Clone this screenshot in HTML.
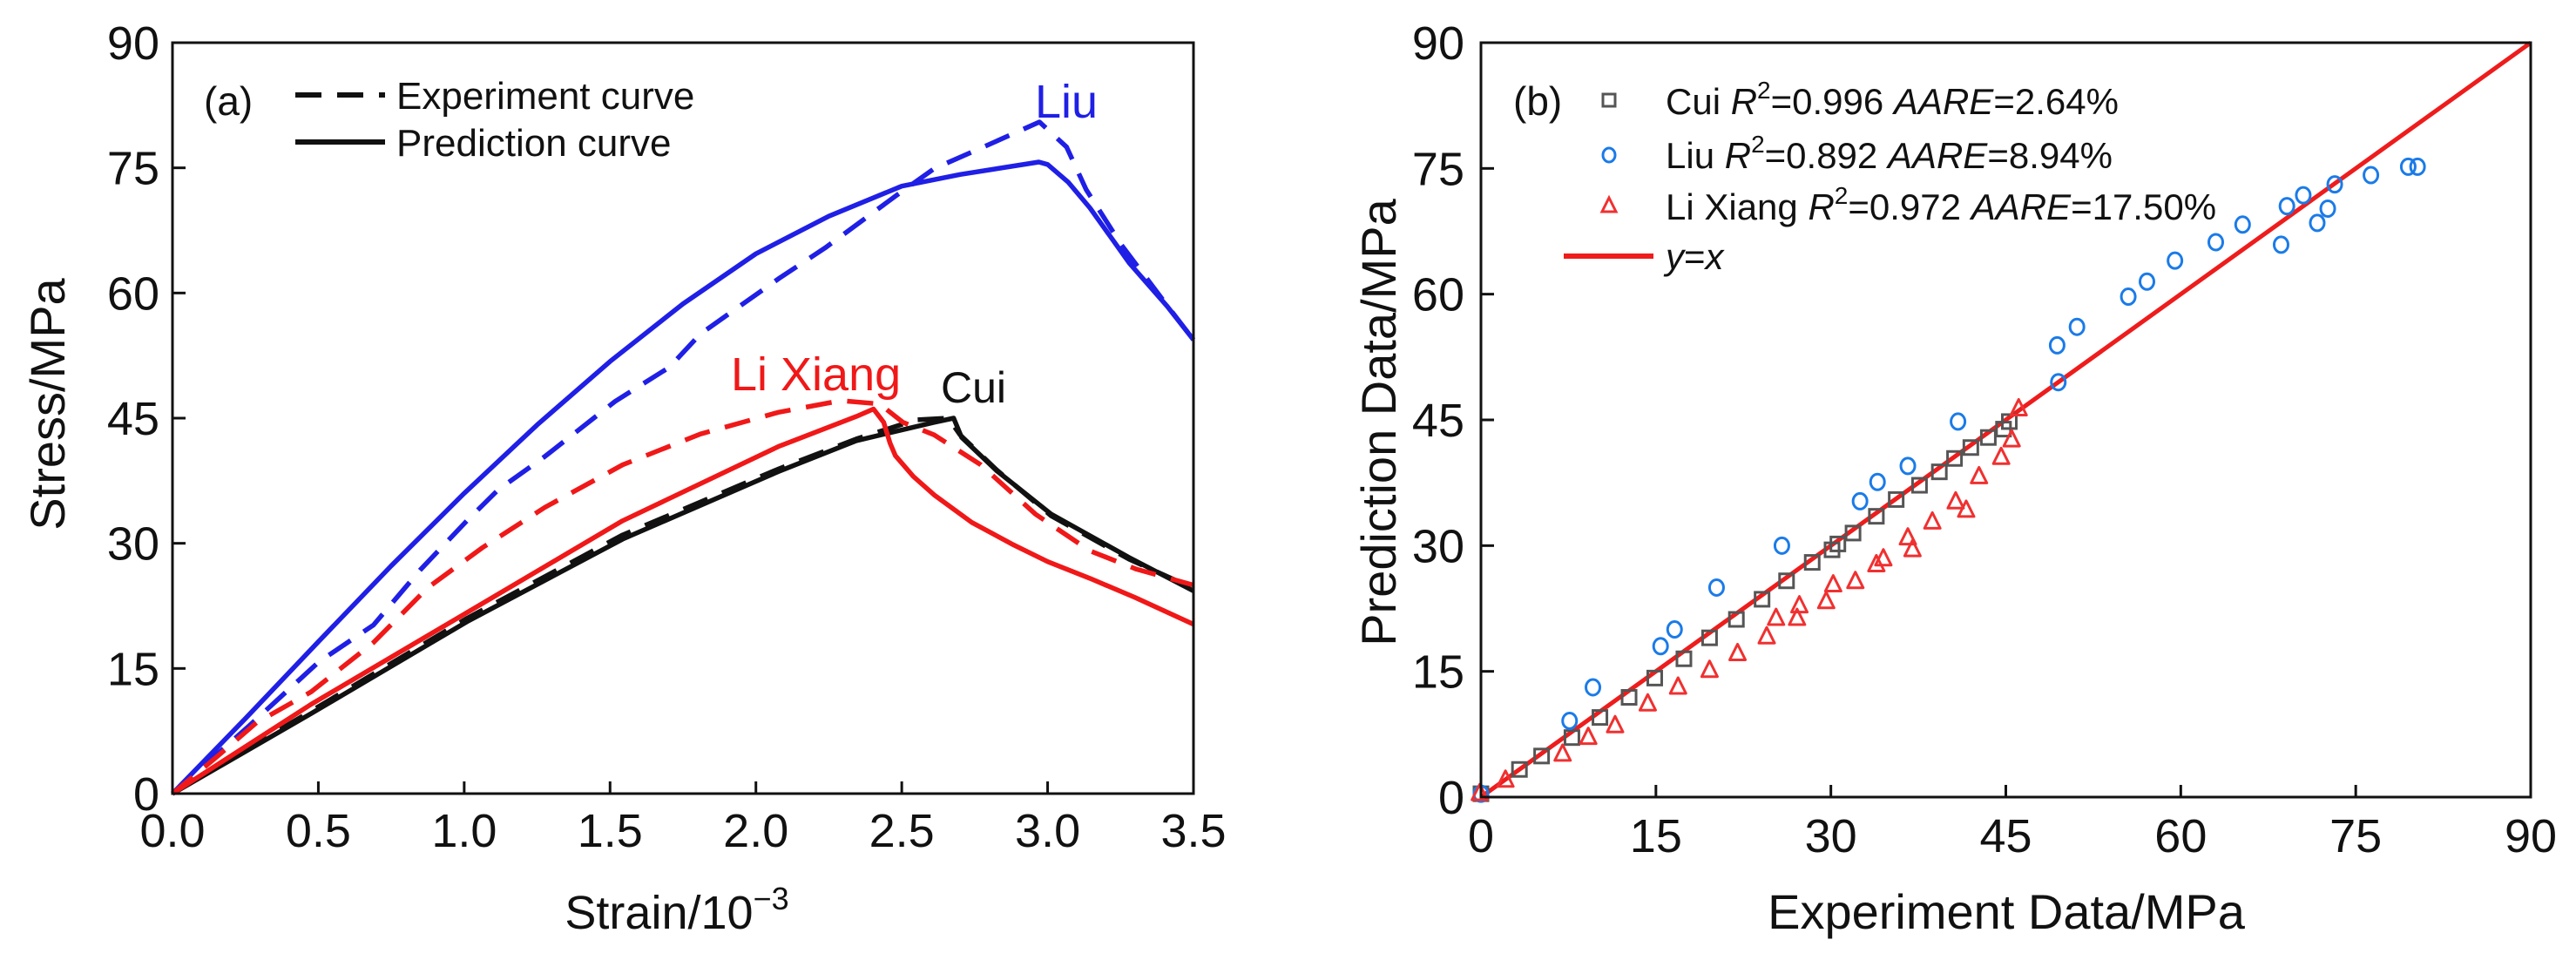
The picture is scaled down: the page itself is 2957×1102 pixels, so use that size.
<!DOCTYPE html>
<html><head><meta charset="utf-8"><style>
html,body{margin:0;padding:0;background:#fff;}
svg{display:block;font-family:"Liberation Sans",Arial,sans-serif;}
</style></head><body>
<svg id="fig" width="2957" height="1102" viewBox="0 0 2957 1102" xmlns="http://www.w3.org/2000/svg">
<rect width="2957" height="1102" fill="#fff"/>
<g id="pa"></g>
<g id="pb"></g>
</svg>
<script>
// ---- Panel (a) data ----
const strainTicks=[0,0.5,1.0,1.5,2.0,2.5,3.0,3.5];
const stressTicks=[0,15,30,45,60,75,90];
const liuExpX=[0,0.262,0.502,0.689,0.849,1.009,1.116,1.276,1.517,1.703,1.810,2.077,2.237,2.478,2.611,2.825,2.972,3.065,3.132,3.252,3.412,3.5];
const liuExpY=[0,8.1,15.8,20.2,26.8,32.7,36.4,40.4,47.0,51.1,55.1,61.7,65.4,71.6,74.9,78.2,80.5,77.5,72.4,65.8,58.4,54.4];
const liuPredX=[0,0.25,0.5,0.75,1.0,1.25,1.5,1.75,2.0,2.25,2.5,2.7,2.97,3.0,3.07,3.145,3.28,3.41,3.5];
const liuPredY=[0,9.0,18.2,27.3,36.0,44.2,51.8,58.7,64.7,69.2,72.8,74.2,75.7,75.4,73.3,70.2,63.6,58.4,54.4];
const liExpX=[0,0.155,0.288,0.475,0.689,0.876,1.063,1.276,1.543,1.810,2.077,2.291,2.424,2.504,2.611,2.771,2.958,3.145,3.305,3.5];
const liExpY=[0,4.5,8.5,12.2,18.1,24.7,29.5,34.3,39.4,43.1,45.7,47.1,46.7,44.5,43.0,39.4,33.5,29.1,26.9,25.0];
const liPredX=[0,0.475,1.009,1.543,2.077,2.344,2.403,2.438,2.46,2.478,2.54,2.611,2.74,2.878,3.0,3.145,3.3,3.5];
const liPredY=[0,10.7,21.7,32.7,41.6,45.2,46.1,44.5,42.0,40.5,38.0,35.8,32.5,29.9,27.8,25.8,23.5,20.3];
const cuiExpX=[0,0.475,1.009,1.543,2.077,2.344,2.55,2.66,2.7,2.825,3.012,3.279,3.5];
const cuiExpY=[0,9.9,21.0,31.0,38.9,42.5,44.8,45.0,43.0,38.8,33.3,28.1,24.6];
const cuiPredX=[0,0.475,1.009,1.543,2.077,2.344,2.611,2.678,2.705,2.825,3.012,3.279,3.5];
const cuiPredY=[0,9.6,20.6,30.5,38.6,42.3,44.5,45.0,42.7,38.7,33.5,28.3,24.3];
// ---- Panel (b) data ----
const dataTicks=[0,15,30,45,60,75,90];
const cuiX=[0,3.3,5.2,7.8,10.2,12.7,14.9,17.4,19.6,21.9,24.1,26.2,28.4,30.1,30.6,31.9,33.9,35.6,37.6,39.3,40.6,42.0,43.5,44.8,45.3];
const cuiY=[0.4,3.3,4.9,7.1,9.5,11.9,14.2,16.5,19.0,21.2,23.6,25.8,28.0,29.5,30.2,31.5,33.5,35.5,37.2,38.8,40.4,41.7,42.9,43.9,44.8];
const liuX=[0,7.6,9.6,15.4,16.6,20.2,25.8,32.5,34.0,36.6,40.9,49.4,49.5,51.1,55.5,57.1,59.5,63.0,65.3,68.6,69.1,70.5,71.7,72.6,73.2,76.3,79.5,80.3];
const liuY=[0.4,9.1,13.1,18.0,20.0,25.0,30.0,35.3,37.6,39.5,44.8,53.9,49.5,56.1,59.7,61.5,64.0,66.2,68.3,65.9,70.5,71.8,68.5,70.2,73.1,74.2,75.2,75.2];
const liX=[-0.1,2.1,7.0,9.2,11.5,14.3,16.9,19.6,22.0,24.5,25.3,27.1,27.3,29.6,30.2,32.1,33.9,34.5,36.6,37.0,38.7,40.7,41.6,42.7,44.6,45.5,46.1];
const liY=[0.4,2.0,5.1,7.1,8.5,11.1,13.1,15.1,17.1,19.1,21.3,21.3,22.8,23.3,25.3,25.7,27.7,28.4,30.9,29.5,32.8,35.2,34.2,38.2,40.5,42.6,46.3];

const NS="http://www.w3.org/2000/svg";
function mk(parent,tag,attrs,text){const e=document.createElementNS(NS,tag);for(const k in attrs)e.setAttribute(k,attrs[k]);if(text!==undefined)e.textContent=text;parent.appendChild(e);return e;}

// ---------- Panel A ----------
const A=document.getElementById('pa');
const aL=198,aR=1370,aT=49,aB=911;
const ax=s=>aL+s/3.5*(aR-aL);
const ay=v=>aB-v/90*(aB-aT);
function curve(xs,ys,color,dash,name){
  let d=xs.map((x,i)=>(i?'L':'M')+ax(x).toFixed(1)+','+ay(ys[i]).toFixed(1)).join(' ');
  const p=mk(A,'path',{d:d,fill:'none',stroke:color,'stroke-width':5.5,'stroke-linejoin':'round'});
  if(dash)p.setAttribute('stroke-dasharray','30,18');
  
  
}
curve(liuPredX,liuPredY,'#1f1fe6',false,'liu-prediction-curve');
curve(liuExpX,liuExpY,'#1f1fe6',true,'liu-experiment-curve');
curve(cuiPredX,cuiPredY,'#111',false,'cui-prediction-curve');
curve(cuiExpX,cuiExpY,'#111',true,'cui-experiment-curve');
curve(liPredX,liPredY,'#f01818',false,'lixiang-prediction-curve');
curve(liExpX,liExpY,'#f01818',true,'lixiang-experiment-curve');
let fa=mk(A,'rect',{x:aL,y:aT,width:aR-aL,height:aB-aT,fill:'none',stroke:'#111','stroke-width':3});

strainTicks.forEach(t=>{
  const l=mk(A,'line',{x1:ax(t),x2:ax(t),y1:aB,y2:aB-14,stroke:'#111','stroke-width':3});
  
  const tx=mk(A,'text',{x:ax(t),y:972,'font-size':54,'text-anchor':'middle',fill:'#111'},t.toFixed(1));
  
});
stressTicks.forEach(t=>{
  const l=mk(A,'line',{x1:aL,x2:aL+15,y1:ay(t),y2:ay(t),stroke:'#111','stroke-width':3});
  
  const tx=mk(A,'text',{x:183,y:ay(t)+19,'font-size':54,'text-anchor':'end',fill:'#111'},String(t));
  
});
</script>
<script>
(function(){
const A=document.getElementById('pa');const NS="http://www.w3.org/2000/svg";
function t(x,y,s,txt,name,extra){const e=document.createElementNS(NS,'text');e.setAttribute('x',x);e.setAttribute('y',y);e.setAttribute('font-size',s);e.setAttribute('fill',(extra&&extra.fill)||'#111');if(extra&&extra.anchor)e.setAttribute('text-anchor',extra.anchor);if(extra&&extra.tr)e.setAttribute('transform',extra.tr);e.innerHTML=txt;


A.appendChild(e);return e;}
t(777,1066,54,'Strain/10<tspan dy="-22" font-size="36">−3</tspan>','x-axis-title',{anchor:'middle'});
t(74,464,56,'Stress/MPa','y-axis-title',{anchor:'middle',tr:'rotate(-90 74 464)'});
t(234,132,46,'(a)','panel-label-a');
t(455,125,44,'Experiment curve','legend-experiment-label');
t(455,179,44,'Prediction curve','legend-prediction-label');
t(1188,135,54,'Liu','liu-label',{fill:'#1f1fe6'});
t(839,448,54,'Li Xiang','lixiang-label',{fill:'#f01818'});
t(1080,462,50,'Cui','cui-label');
const l1=document.createElementNS(NS,'line');l1.setAttribute('x1',339);l1.setAttribute('x2',442);l1.setAttribute('y1',109);l1.setAttribute('y2',109);l1.setAttribute('stroke','#111');l1.setAttribute('stroke-width',6);l1.setAttribute('stroke-dasharray','30,18');


A.appendChild(l1);
const l2=document.createElementNS(NS,'line');l2.setAttribute('x1',339);l2.setAttribute('x2',442);l2.setAttribute('y1',163);l2.setAttribute('y2',163);l2.setAttribute('stroke','#111');l2.setAttribute('stroke-width',6);


A.appendChild(l2);
})();
</script>
<script>
(function(){
const B=document.getElementById('pb');
const bL=1700,bR=2905,bT=49,bB=915;
const bx=v=>bL+v/90*(bR-bL);
const by=v=>bB-v/90*(bB-bT);
const yx=mk(B,'line',{x1:bx(0),y1:by(0),x2:bx(90),y2:by(90),stroke:'#ee1c1c','stroke-width':5});


cuiX.forEach((v,i)=>{
  const r=mk(B,'rect',{x:bx(v)-8,y:by(cuiY[i])-8,width:16,height:16,fill:'none',stroke:'#555','stroke-width':3});
  
  
});
liuX.forEach((v,i)=>{
  const c=mk(B,'ellipse',{cx:bx(v),cy:by(liuY[i]),rx:8,ry:9,fill:'none',stroke:'#1a7be8','stroke-width':3});
  
  
});
liX.forEach((v,i)=>{
  const X=bx(v),Y=by(liY[i]);
  const p=mk(B,'path',{d:`M${X},${Y-11} L${X+9},${Y+7} L${X-9},${Y+7} Z`,fill:'none',stroke:'#f03030','stroke-width':3,'stroke-linejoin':'round'});
  
  
});
const fb=mk(B,'rect',{x:bL,y:bT,width:bR-bL,height:bB-bT,fill:'none',stroke:'#111','stroke-width':3});


dataTicks.forEach(t=>{
  const l=mk(B,'line',{x1:bx(t),x2:bx(t),y1:bB,y2:bB-14,stroke:'#111','stroke-width':3});
  
  
  const tx=mk(B,'text',{x:bx(t),y:978,'font-size':54,'text-anchor':'middle',fill:'#111'},String(t));
  
  
  const l2=mk(B,'line',{x1:bL,x2:bL+15,y1:by(t),y2:by(t),stroke:'#111','stroke-width':3});
  
  
  const ty=mk(B,'text',{x:1681,y:by(t)+19,'font-size':54,'text-anchor':'end',fill:'#111'},String(t));
  
  
});
function t(x,y,s,html,name,extra){const e=mk(B,'text',{x:x,y:y,'font-size':s,fill:'#111'});if(extra&&extra.anchor)e.setAttribute('text-anchor',extra.anchor);if(extra&&extra.tr)e.setAttribute('transform',extra.tr);e.innerHTML=html;


return e;}
t(2303,1066,56,'Experiment Data/MPa','x-axis-title',{anchor:'middle'});
t(1602,485,56,'Prediction Data/MPa','y-axis-title',{anchor:'middle',tr:'rotate(-90 1602 485)'});
t(1737,132,46,'(b)','panel-label-b');
const sup='<tspan dy="-18" font-size="28">2</tspan><tspan dy="18">=</tspan>';
t(1912,131,42,'Cui <tspan font-style="italic">R</tspan>'+sup+'0.996 <tspan font-style="italic">AARE</tspan>=2.64%','legend-cui-label');
t(1912,193,42,'Liu <tspan font-style="italic">R</tspan>'+sup+'0.892 <tspan font-style="italic">AARE</tspan>=8.94%','legend-liu-label');
t(1912,252,42,'Li Xiang <tspan font-style="italic">R</tspan>'+sup+'0.972 <tspan font-style="italic">AARE</tspan>=17.50%','legend-lixiang-label');
t(1912,309,42,'<tspan font-style="italic">y</tspan>=<tspan font-style="italic">x</tspan>','legend-yx-label');
const s1=mk(B,'rect',{x:1840,y:108,width:14,height:14,fill:'none',stroke:'#555','stroke-width':3});

const s2=mk(B,'ellipse',{cx:1847,cy:178,rx:7,ry:8,fill:'none',stroke:'#1a7be8','stroke-width':3});

const s3=mk(B,'path',{d:'M1847,227 L1855,243 L1839,243 Z',fill:'none',stroke:'#f03030','stroke-width':3});

const s4=mk(B,'line',{x1:1795,x2:1898,y1:294,y2:294,stroke:'#ee1c1c','stroke-width':6});

})();
</script>
</body></html>
